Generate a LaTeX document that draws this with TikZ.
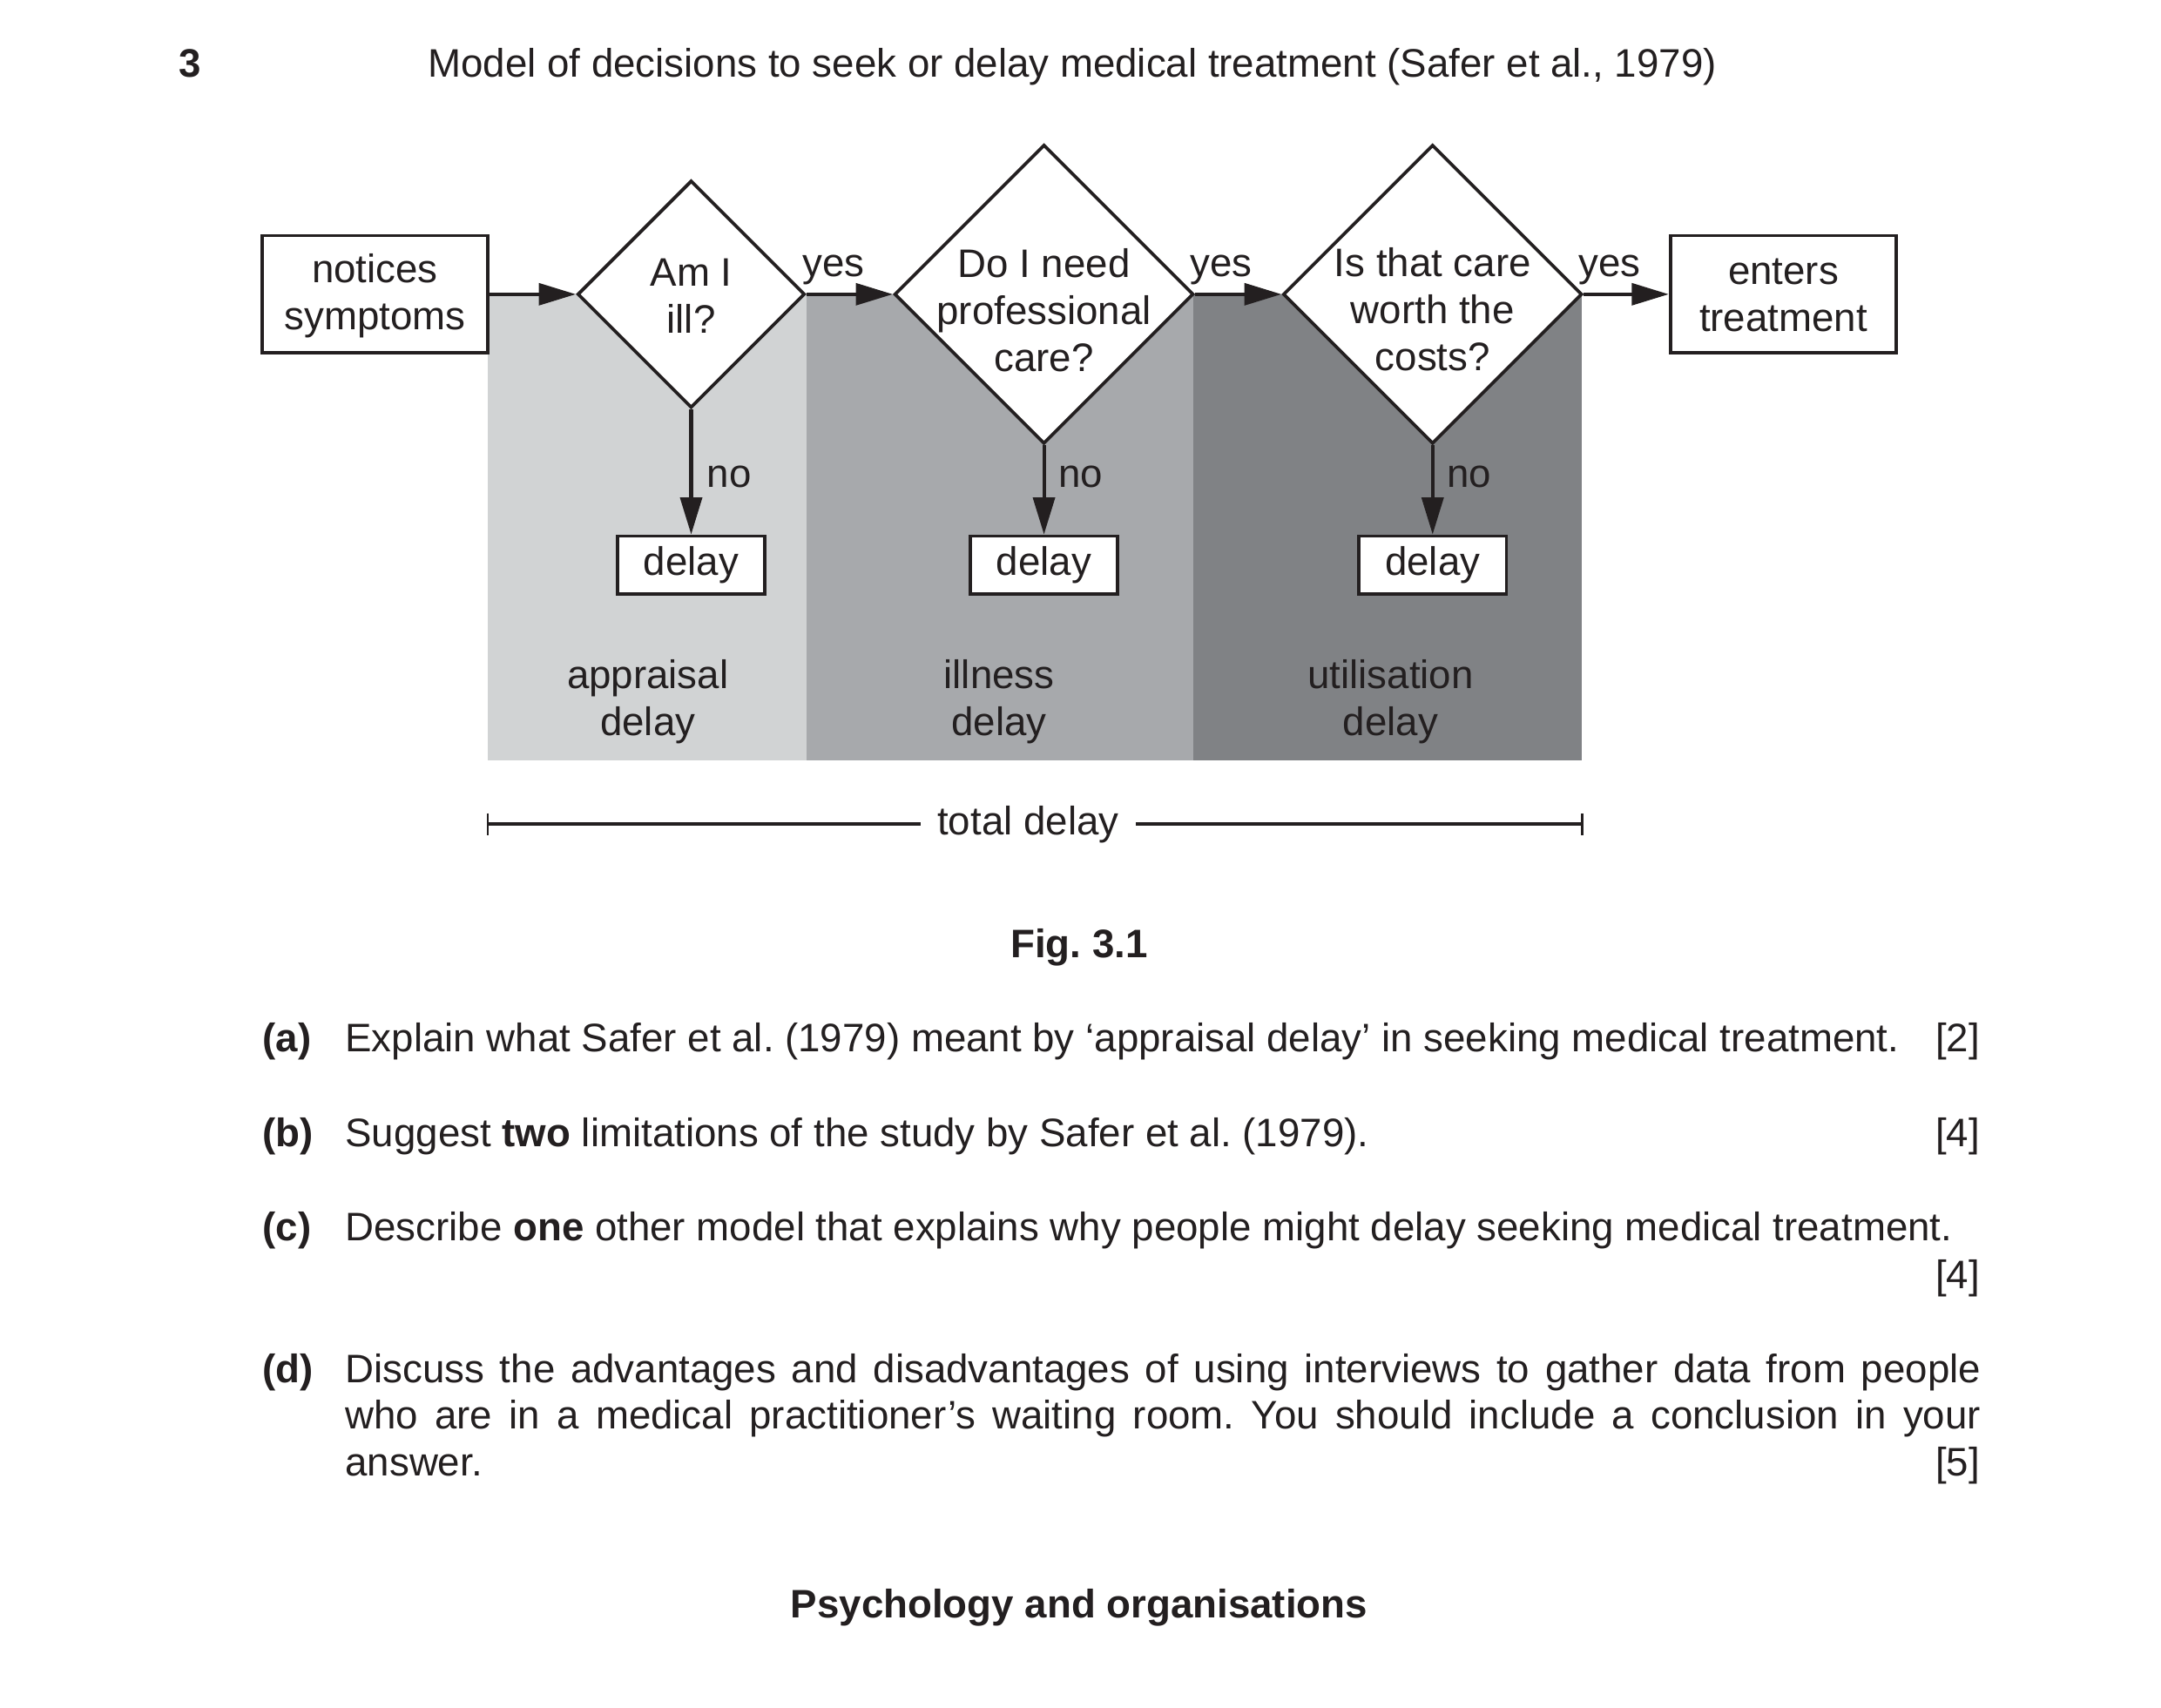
\documentclass[tikz,border=0pt]{standalone}
\usepackage{fontspec}
\setmainfont{Liberation Sans}
\usetikzlibrary{shapes.geometric,arrows.meta}
\definecolor{ink}{HTML}{231F20}
\definecolor{gA}{HTML}{D1D3D4}
\definecolor{gB}{HTML}{A7A9AC}
\definecolor{gC}{HTML}{808285}
\newcommand{\qf}{\fontsize{11}{13}\selectfont\frenchspacing}
\begin{document}
\frenchspacing
\begin{tikzpicture}[x=0.13397mm,y=-0.13397mm,
  every node/.style={text=ink, font=\qf, inner sep=0pt},
  box/.style={draw=ink, line width=0.9pt, fill=white, align=center},
  bigbox/.style={box, minimum width=21.97mm, minimum height=11.39mm},
  delaybox/.style={box, minimum width=14.33mm, minimum height=5.63mm},
  dia/.style={draw=ink, line width=0.9pt, fill=white, shape=diamond, inner sep=0pt},
  smalldia/.style={dia, minimum width=22.1mm, minimum height=22.1mm},
  largedia/.style={dia, minimum width=29.07mm, minimum height=29.07mm},
  arr/.style={draw=ink, line width=1pt, -{Triangle[length=3.6mm,width=2.1mm]}},
  txt/.style={align=center},
  bold/.style={font=\qf\bfseries},
  bw/.style={anchor=base west},
  be/.style={anchor=base east}
]
\useasboundingbox (0,0) rectangle (1568,1239);

% shaded regions
\fill[gA] (354,213.5) rectangle (585,552);
\fill[gB] (585,213.5) rectangle (866,552);
\fill[gC] (866,213.5) rectangle (1148,552);

% nodes
\node[bigbox] (ns) at (272,213.5) {\rule{0pt}{0pt}};
\node[txt] (nst) at (272,214.5) {notices\\symptoms};
\node[smalldia] (d1) at (501.5,213.5) {};
\node[txt] (t1) at (501.5,215) {Am I\\ill?};
\node[largedia] (d2) at (757.5,213.5) {};
\node[txt] (t2) at (757.5,225) {Do I need\\professional\\care?};
\node[largedia] (d3) at (1039.5,213.5) {};
\node[txt] (t3) at (1039.5,224.5) {Is that care\\worth the\\costs?};
\node[bigbox] (en) at (1294,213.5) {};
\node[txt] (ent) at (1294,214.5) {enters\\treatment};

\node[delaybox] (y1) at (501.5,410) {delay};
\node[delaybox] (y2) at (757.5,410) {delay};
\node[delaybox] (y3) at (1039.5,410) {delay};

% connectors
\draw[arr] (ns) -- (d1);
\draw[arr] (d1) -- (d2);
\draw[arr] (d2) -- (d3);
\draw[arr] (d3) -- (en);
\draw[arr] (d1) -- (y1);
\draw[arr] (d2) -- (y2);
\draw[arr] (d3) -- (y3);

% connector labels
\node (yes1) at (605,196) {yes};
\node (yes2) at (886,196) {yes};
\node (yes3) at (1168,196) {yes};
\node (no1) at (529,346) {no};
\node (no2) at (784,346) {no};
\node (no3) at (1066,346) {no};

% region labels
\node[txt] (ra) at (470,509) {appraisal\\delay};
\node[txt] (rb) at (725,509) {illness\\delay};
\node[txt] (rc) at (1009,509) {utilisation\\delay};

% total delay
\node[inner xsep=1.6mm] (tot) at (746,598) {total delay};
\coordinate (tl) at (354,598);
\coordinate (tr) at (1148,598);
\draw[ink, line width=0.9pt] (tl) -- (tl -| tot.west);
\draw[ink, line width=0.9pt] (tot.east |- tr) -- (tr);
\draw[ink, line width=0.6pt] (354,590) -- (354,606);
\draw[ink, line width=0.6pt] (1148,590) -- (1148,606);

% header
\node[bold, anchor=base] (num) at (138,56) {3};
\node[bw] (title) at (310,56) {Model of decisions to seek or delay medical treatment (Safer et al., 1979)};
\node[bold, anchor=base] (fig) at (783,695) {Fig. 3.1};

% questions
\node[bold, bw] (qa) at (190,763) {(a)};
\node[bw] (qat) at (250,763) {Explain what Safer et al. (1979) meant by ‘appraisal delay’ in seeking medical treatment.};
\node[be] (qam) at (1437,763) {[2]};

\node[bold, bw] (qb) at (190,832) {(b)};
\node[bw] (qbt) at (250,832) {Suggest \textbf{two} limitations of the study by Safer et al. (1979).};
\node[be] (qbm) at (1437,832) {[4]};

\node[bold, bw] (qc) at (190,900) {(c)};
\node[bw] (qct) at (250,900) {Describe \textbf{one} other model that explains why people might delay seeking medical treatment.};
\node[be] (qcm) at (1437,935) {[4]};

\node[bold, bw] (qd) at (190,1003) {(d)};
\node[bw] (qd1) at (250,1003) {\makebox[159mm][s]{Discuss the advantages and disadvantages of using interviews to gather data from people}};
\node[bw] (qd2) at (250,1037) {\makebox[159mm][s]{who are in a medical practitioner’s waiting room. You should include a conclusion in your}};
\node[bw] (qd3) at (250,1071) {answer.};
\node[be] (qdm) at (1437,1071) {[5]};

\node[bold, anchor=base] (sec) at (783,1174) {Psychology and organisations};
\end{tikzpicture}
\end{document}
